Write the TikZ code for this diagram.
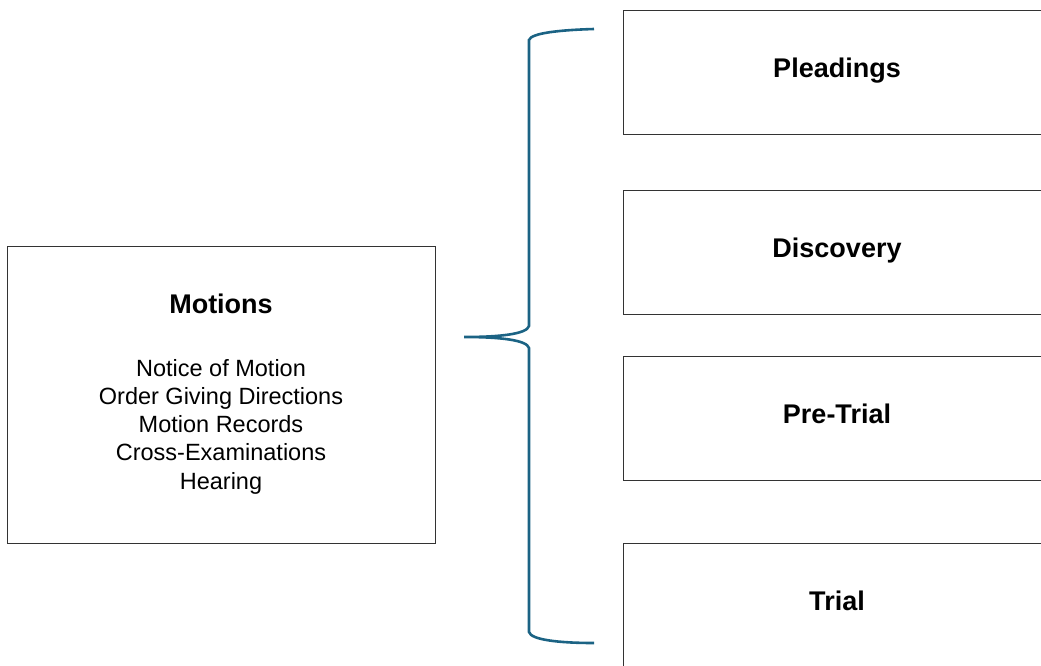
\documentclass[tikz,border=0pt]{standalone}
\usepackage{fontspec}
\setmainfont{Liberation Sans}
\definecolor{bracecol}{HTML}{1B6384}
\definecolor{boxline}{HTML}{333333}
\begin{document}
\begin{tikzpicture}[x=1pt,y=-1pt,
  titlefont/.style={font=\fontsize{27}{32}\selectfont\bfseries},
  box/.style={draw=boxline,line width=0.9pt,minimum width=428pt,minimum height=124pt,inner sep=0pt,
    titlefont,text height=20pt,text depth=10pt},
  bigbox/.style={draw=boxline,line width=0.9pt,minimum width=428pt,minimum height=297pt,inner sep=0pt},
  listtext/.style={font=\fontsize{23.5}{28.25}\selectfont,align=center,inner sep=0pt},
  brace/.style={draw=bracecol,line width=2.6pt}]
\useasboundingbox (0,0) rectangle (1041,665);
\clip (0,0) rectangle (1041,665);
\node[bigbox] (motions) at (221,394.5) {};
\node[titlefont,anchor=base,inner sep=0pt] (mtitle) at (221,313) {Motions};
\node[listtext,anchor=north] (mlist) at (221,359) {Notice of Motion\\ Order Giving Directions\\ Motion Records\\ Cross-Examinations\\ Hearing};
\node[box] (pleadings) at (837,72) {Pleadings};
\node[box] (discovery) at (837,252) {Discovery};
\node[box] (pretrial) at (837,418) {Pre-Trial};
\node[box] (trial) at (837,605) {Trial};
\coordinate (tip) at (464,337);
\coordinate (top) at (594,29);
\coordinate (bot) at (594,643);
\draw[brace] (top) .. controls (560,30) and (531,33) .. (529,40) -- (529,326)
  .. controls (527,334) and (500,337) .. (tip)
  .. controls (500,337) and (527,340) .. (529,348) -- (529,632)
  .. controls (531,640) and (560,643) .. (bot);
\end{tikzpicture}
\end{document}
